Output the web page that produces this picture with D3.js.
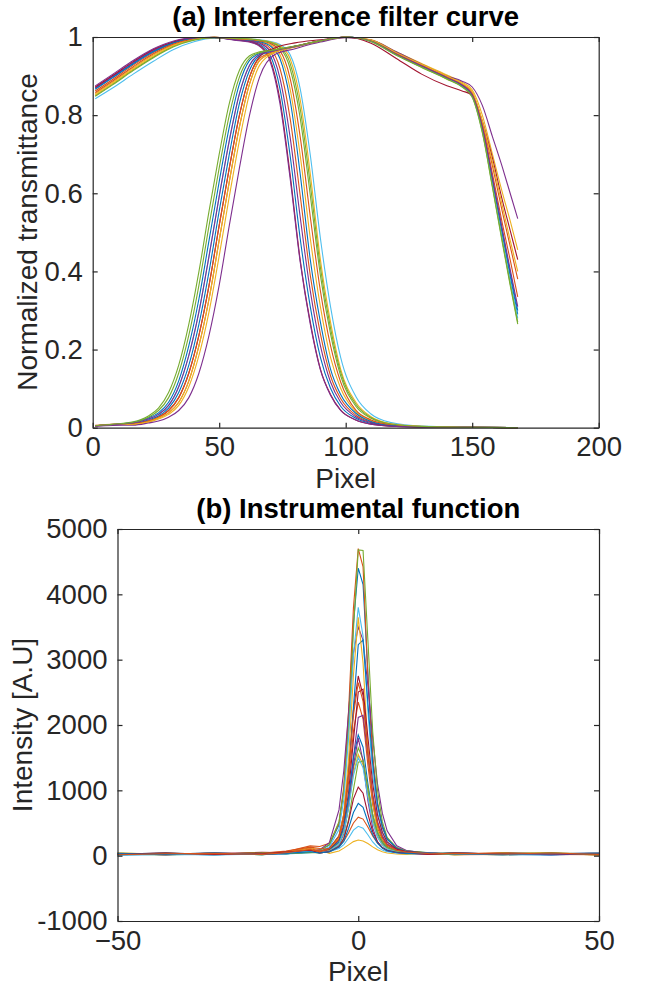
<!DOCTYPE html>
<html>
<head>
<meta charset="utf-8">
<script src="https://cdn.jsdelivr.net/npm/d3@7"></script>
<style>
body { margin: 0; background: #fff; }
svg { display: block; font-family: "Liberation Sans", Arial, Helvetica, sans-serif; }
</style>
</head>
<body>
<svg id="chart" width="651" height="986"></svg>
<script>
// MATLAB default line colours
let lineColors = ['#0072BD', '#D95319', '#EDB120', '#7E2F8E', '#77AC30', '#4DBEEE', '#A2142F']

// (a) falling filter curves
let fallPixels = [1, 8, 16, 24, 32, 40, 48, 56, 62, 66, 70, 74, 78, 82, 86, 90, 94, 98, 104, 110, 118, 130, 150, 168]
let fallCurves = [
	[.868,.898,.933,.964,.986,.997,.998,.994, .989,.981,.955,.868,.698,.485,.31,.18,.101,.055,.024,.011,.0045,.002,.001,0],
	[.862,.892,.928,.960,.984,.996,.998,.995, .991,.986,.972,.92,.793,.595,.39,.24,.133,.075,.032,.0145,.0055,.0024,.001,0],
	[.855,.885,.921,.954,.980,.994,.999,.996, .993,.989,.981,.955,.868,.698,.485,.31,.18,.101,.041,.018,.007,.0027,.001,0],
	[.870,.900,.935,.966,.987,.997,.998,.993, .99,.984,.965,.895,.745,.54,.35,.21,.117,.065,.028,.013,.005,.0022,.001,0],
	[.850,.880,.916,.949,.977,.993,.998,.996, .994,.991,.986,.972,.92,.793,.595,.39,.24,.133,.055,.024,.009,.003,.001,0],
	[.842,.870,.905,.938,.968,.988,.997,.997, .995,.993,.989,.981,.955,.868,.698,.485,.31,.18,.08,.035,.013,.004,.0015,0],
	[.872,.902,.937,.968,.988,.998,.999,.993, .988,.978,.945,.84,.65,.43,.27,.15,.085,.045,.02,.009,.004,.002,.001,0],
	[.866,.896,.931,.962,.985,.996,.999,.994, .992,.988,.978,.945,.84,.65,.43,.27,.15,.085,.037,.016,.006,.0025,.001,0],
	[.858,.888,.924,.957,.982,.995,.999,.995, .993,.99,.984,.965,.895,.745,.54,.35,.21,.117,.045,.02,.008,.003,.001,0],
	[.852,.882,.918,.951,.978,.993,.999,.996, .995,.992,.988,.978,.945,.84,.65,.43,.27,.15,.065,.028,.01,.0035,.001,0],
	[.875,.905,.940,.970,.990,.998,.998,.992, .987,.976,.94,.83,.64,.425,.265,.148,.083,.044,.02,.009,.004,.002,.001,0],
	[.848,.878,.914,.947,.975,.992,.998,.997, .995,.992,.987,.975,.933,.817,.623,.41,.255,.142,.06,.026,.0095,.0033,.001,0]
]

// (a) rising filter curves
let risePixels = [1, 8, 16, 22, 26, 30, 34, 38, 42, 46, 50, 54, 58, 62, 66, 72, 80, 90, 100, 110, 120, 130, 140, 146, 150, 154, 158, 162, 165, 168]
let riseCurves = [
	[.005,.008, .011,.02,.03,.05,.09,.16,.265,.4,.555,.7,.83,.915,.952,.964, .976,.99,1.0,.99,.956,.926,.896, .875,.85,.765,.63,.49,.388,.29],
	[.006,.009, .009,.015,.025,.038,.065,.12,.21,.33,.48,.63,.77,.88,.94,.962, .975,.99,1.0,.992,.96,.93,.9, .88,.858,.78,.67,.55,.465,.38],
	[.005,.008, .008,.014,.022,.034,.057,.105,.185,.297,.44,.592,.735,.855,.928,.96, .974,.989,.999,.993,.962,.932,.903, .884,.865,.80,.70,.60,.53,.455],
	[.004,.006, .0065,.012,.017,.027,.044,.077,.14,.237,.365,.518,.665,.8,.898,.955, .97,.987,.998,.992,.962,.93,.9, .887,.872,.825,.745,.665,.60,.535],
	[.005,.009, .015,.03,.05,.09,.16,.265,.4,.555,.7,.83,.915,.952,.962,.968, .977,.99,1.0,.988,.953,.922,.892, .872,.846,.755,.615,.47,.365,.265],
	[.005,.008, .012,.022,.034,.057,.105,.185,.297,.44,.592,.735,.855,.928,.955,.965, .976,.99,1.0,.989,.955,.925,.895, .874,.848,.762,.625,.482,.378,.28],
	[.005,.008, .01,.017,.027,.044,.077,.14,.237,.365,.518,.665,.8,.898,.95,.972, .985,.993,1.0,.984,.945,.905,.875, .862,.851,.785,.69,.58,.505,.43],
	[.005,.008, .013,.025,.038,.065,.12,.21,.33,.48,.63,.77,.88,.94,.958,.966, .976,.99,1.0,.99,.955,.925,.895, .876,.851,.768,.636,.498,.397,.30],
	[.005,.009, .01,.017,.027,.044,.077,.14,.237,.365,.518,.665,.8,.898,.946,.963, .976,.99,1.0,.991,.958,.928,.898, .878,.855,.775,.65,.52,.43,.335],
	[.005,.008, .009,.015,.025,.038,.065,.12,.21,.33,.48,.63,.77,.88,.94,.962, .975,.99,1.0,.992,.96,.93,.9, .881,.86,.785,.68,.565,.48,.40],
	[.004,.008, .012,.022,.034,.057,.105,.185,.297,.44,.592,.735,.855,.928,.955,.965, .976,.99,1.0,.99,.956,.926,.896, .877,.852,.77,.64,.505,.405,.31],
	[.005,.009, .014,.027,.044,.077,.14,.237,.365,.518,.665,.8,.898,.946,.96,.967, .977,.99,1.0,.989,.954,.923,.893, .873,.847,.758,.618,.475,.37,.27]
]

// (b) instrumental functions
let instPixels = [-50, -40, -30, -20, -15, -10, -8, -6, -4, -3, -2, -1, 0, 1, 2, 3, 4, 5, 6, 8, 10, 15, 20, 30, 40, 50]
let instCurves = [
	[20,35,10,40,30,55,83,162,470,1000,2100,3550,4400,4150,2800,1500,780,430,250,120,75,40,25,30,15,35],
	[10,25,30,20,60,150,140,190,495,1060,2230,3790,4700,4420,2750,1530,820,450,260,120,70,35,15,20,40,10],
	[30,15,40,25,50,120,90,35,70,115,165,215,240,225,185,135,90,60,40,25,20,30,15,25,35,20],
	[15,30,20,35,45,70,90,200,700,1300,2200,3100,3500,3300,2600,1800,1100,650,380,150,80,30,45,20,30,25],
	[25,10,30,15,40,60,80,170,520,1000,1950,3450,4680,4670,3300,1900,1000,520,280,120,70,45,30,10,35,20],
	[5,20,15,30,25,45,66,134,400,860,1810,3060,3800,3360,2220,1240,670,360,210,96,58,25,35,15,20,30],
	[30,15,40,20,50,80,63,113,305,635,1320,2230,2750,2450,1625,910,500,280,170,85,58,40,20,35,25,45],
	[35,20,25,40,30,50,58,108,290,590,1250,2270,3230,3300,2340,1410,785,455,255,115,65,30,40,20,10,30],
	[20,40,15,35,70,130,110,96,260,540,1130,1905,2350,2090,1390,780,425,240,145,72,50,30,25,40,20,15],
	[30,25,20,45,35,60,47,98,280,645,1485,2760,3650,2945,1670,830,390,210,115,62,43,35,20,30,45,25],
	[25,35,20,30,40,75,52,84,200,395,825,1490,2115,2150,1535,935,525,310,180,90,56,40,25,15,30,20],
	[40,20,35,15,45,65,45,75,190,390,800,1345,1650,1475,980,555,305,175,110,58,42,25,45,20,35,10],
	[15,30,10,25,40,55,50,60,110,170,270,390,450,420,320,210,130,85,60,40,30,20,35,25,15,40],
	[35,15,30,50,45,90,56,94,235,465,975,1765,2505,2550,1815,1100,620,360,210,100,60,35,20,45,30,20],
	[25,40,20,35,30,55,52,86,215,437,900,1510,1850,1660,1105,620,345,200,125,67,49,30,40,25,20,35],
	[20,30,25,40,60,110,70,80,140,220,350,500,590,560,440,300,190,120,80,50,40,35,20,30,25,15],
	[40,25,35,20,50,100,44,72,180,366,755,1265,1550,1390,925,520,290,165,105,56,40,25,30,40,20,35],
	[30,20,40,25,35,60,41,66,156,336,750,1380,1800,1445,840,426,210,120,75,48,39,20,35,30,15,25],
	[20,35,25,40,30,50,40,61,141,272,560,1010,1430,1450,1040,634,360,215,127,66,42,30,15,35,40,20],
	[35,15,30,25,40,70,43,70,175,355,730,1225,1500,1345,895,505,280,160,100,55,40,35,25,15,30,45],
	[25,40,20,30,55,85,43,62,135,260,525,870,1050,955,640,366,210,125,83,51,41,20,40,30,25,35],
	[30,20,45,15,35,60,40,60,130,220,420,660,800,740,520,320,190,115,75,45,35,40,25,20,35,30],
	[15,30,35,20,45,95,62,110,295,613,1275,2150,2650,2360,1567,878,481,269,163,83,57,30,35,25,40,20]
]

let ticksAX = [0, 50, 100, 150, 200]
let ticksAY = [0, 0.2, 0.4, 0.6, 0.8, 1]
let ticksBX = [-50, 0, 50]
let ticksBY = [-1000, 0, 1000, 2000, 3000, 4000, 5000]

let svg = d3.select('#chart')
let axisColor = '#262626'
let tickFont = '27.5px'

function drawBox(x, y, xTicks, yTicks, yFormat) {
	let g = svg.append('g')
	let [x0, x1] = x.range()
	let [y0, y1] = y.range()

	g.append('g')
		.attr('transform', `translate(0,${y0})`)
		.call(d3.axisBottom(x).tickValues(xTicks).tickSizeInner(-5).tickSizeOuter(0).tickPadding(9))
	g.append('g')
		.attr('transform', `translate(0,${y1})`)
		.call(d3.axisTop(x).tickValues(xTicks).tickSizeInner(-5).tickSizeOuter(0).tickFormat(() => ''))
	g.append('g')
		.attr('transform', `translate(${x0},0)`)
		.call(d3.axisLeft(y).tickValues(yTicks).tickSizeInner(-5).tickSizeOuter(0).tickPadding(10).tickFormat(yFormat))
	g.append('g')
		.attr('transform', `translate(${x1},0)`)
		.call(d3.axisRight(y).tickValues(yTicks).tickSizeInner(-5).tickSizeOuter(0).tickFormat(() => ''))

	g.selectAll('.domain').attr('stroke', axisColor).attr('stroke-width', 1.2)
	g.selectAll('.tick line').attr('stroke', axisColor).attr('stroke-width', 1.2)
	g.selectAll('.tick text')
		.attr('fill', axisColor)
		.style('font-size', tickFont)
		.style('font-family', '"Liberation Sans", Arial, sans-serif')
	return g
}

function drawLines(curves, pixels, x, y, curve) {
	let line = d3.line()
		.x((d, i) => x(pixels[i]))
		.y(d => y(d))
		.curve(curve)
	svg.append('g')
		.selectAll('path')
		.data(curves)
		.join('path')
		.attr('d', d => line(d))
		.attr('fill', 'none')
		.attr('stroke', (d, i) => lineColors[i % 7])
		.attr('stroke-width', 1.1)
}

function addLabels(title, tx, ty, xlabel, xly, ylabel, ylx, yly) {
	svg.append('text')
		.attr('x', tx).attr('y', ty)
		.attr('text-anchor', 'middle')
		.style('font-size', '27.5px')
		.style('font-weight', 'bold')
		.attr('fill', '#000')
		.text(title)
	svg.append('text')
		.attr('x', tx).attr('y', xly)
		.attr('text-anchor', 'middle')
		.style('font-size', '28px')
		.attr('fill', axisColor)
		.text(xlabel)
	svg.append('text')
		.attr('transform', `translate(${ylx},${yly}) rotate(-90)`)
		.attr('text-anchor', 'middle')
		.style('font-size', '28px')
		.attr('fill', axisColor)
		.text(ylabel)
}

// panel (a)
let xA = d3.scaleLinear().domain([0, 200]).range([92.7, 598.7])
let yA = d3.scaleLinear().domain([0, 1]).range([427.7, 37])
drawLines(fallCurves, fallPixels, xA, yA, d3.curveMonotoneX)
drawLines(riseCurves, risePixels, xA, yA, d3.curveMonotoneX)
drawBox(xA, yA, ticksAX, ticksAY, d => d3.format('~g')(d))
addLabels('(a) Interference filter curve', 345.7, 26, 'Pixel', 488, 'Normalized transmittance', 37, 232)

// panel (b)
let xB = d3.scaleLinear().domain([-50, 50]).range([117.5, 599])
let yB = d3.scaleLinear().domain([-1000, 5000]).range([921, 529])
drawLines(instCurves, instPixels, xB, yB, d3.curveLinear)
drawBox(xB, yB, ticksBX, ticksBY, d => String(d))
addLabels('(b) Instrumental function', 358.3, 518, 'Pixel', 981, 'Intensity [A.U]', 32, 725)
</script>
</body>
</html>
